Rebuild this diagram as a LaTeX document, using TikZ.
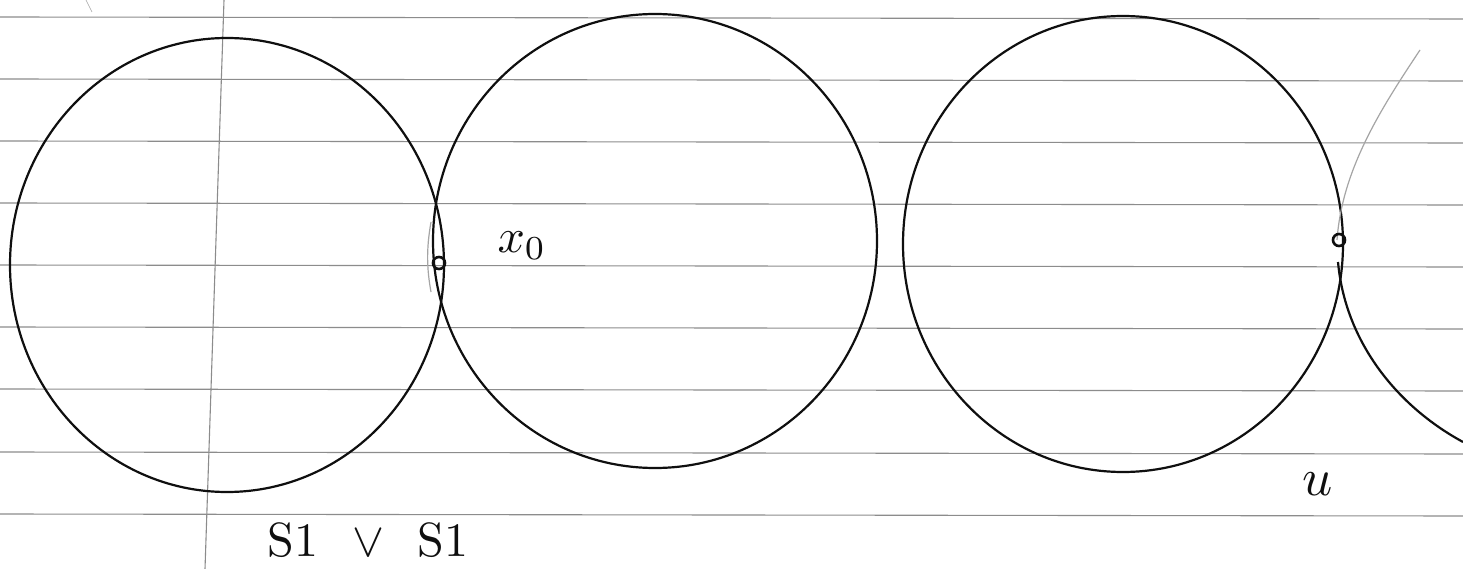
\documentclass[tikz,border=0pt]{standalone}
\usepackage{amsmath}
\usetikzlibrary{positioning}
\definecolor{paperline}{RGB}{140, 140, 140}
\definecolor{pencil}{RGB}{15, 15, 15}
\definecolor{faintpencil}{RGB}{165, 165, 165}

\begin{document}
\begin{tikzpicture}[x=1pt, y=-1pt,
    ruled/.style={color=paperline, line width=1.1pt},
    loopcircle/.style={color=pencil, line width=2.2pt},
    basepoint/.style={circle, draw=pencil, line width=2.6pt, inner sep=0pt, minimum size=12pt},
    hand/.style={font=\normalsize, scale=4.8, color=pencil}]
  \useasboundingbox[fill=white] (0,0) rectangle (1463,569);

  % Paper lines
  \foreach \y in {17, 79, 141, 203, 265, 327, 389, 452, 514}
    \draw[ruled] (0,\y) -- (1463,\y+2);
  \draw[ruled] (224,0) -- (205,569);
  \draw[color=faintpencil, line width=0.6pt] (86,0) -- (92,12);

  % Wedge of two circles
  \draw[loopcircle] (227,265) ellipse [x radius=217, y radius=227];
  \draw[loopcircle] (655,241) ellipse [x radius=222, y radius=227];
  \draw[color=faintpencil, line width=1.2pt] (431,222) .. controls (426,250) and (427,270) .. (431,292);

  % Universal cover piece
  \draw[loopcircle] (1123,244) ellipse [x radius=220, y radius=228];
  \draw[color=faintpencil, line width=1.2pt] (1420,50) .. controls (1380,110) and (1342,170) .. (1337,240);
  \draw[loopcircle] (1338,262) .. controls (1345,340) and (1395,405) .. (1463,442);

  % Points and labels
  \node[basepoint] (xzero) at (439,263) {};
  \node[basepoint] (upoint) at (1339,240) {};
  \node[hand] (xlabel) at (522,246) {$x_0$};
  \node[hand] (wedge) at (368,540) {S1\hspace{7pt}$\vee$\hspace{7pt}S1};
  \node[hand, scale=1.1] (ulabel) at (1318,484) {$u$};
\end{tikzpicture}
\end{document}
